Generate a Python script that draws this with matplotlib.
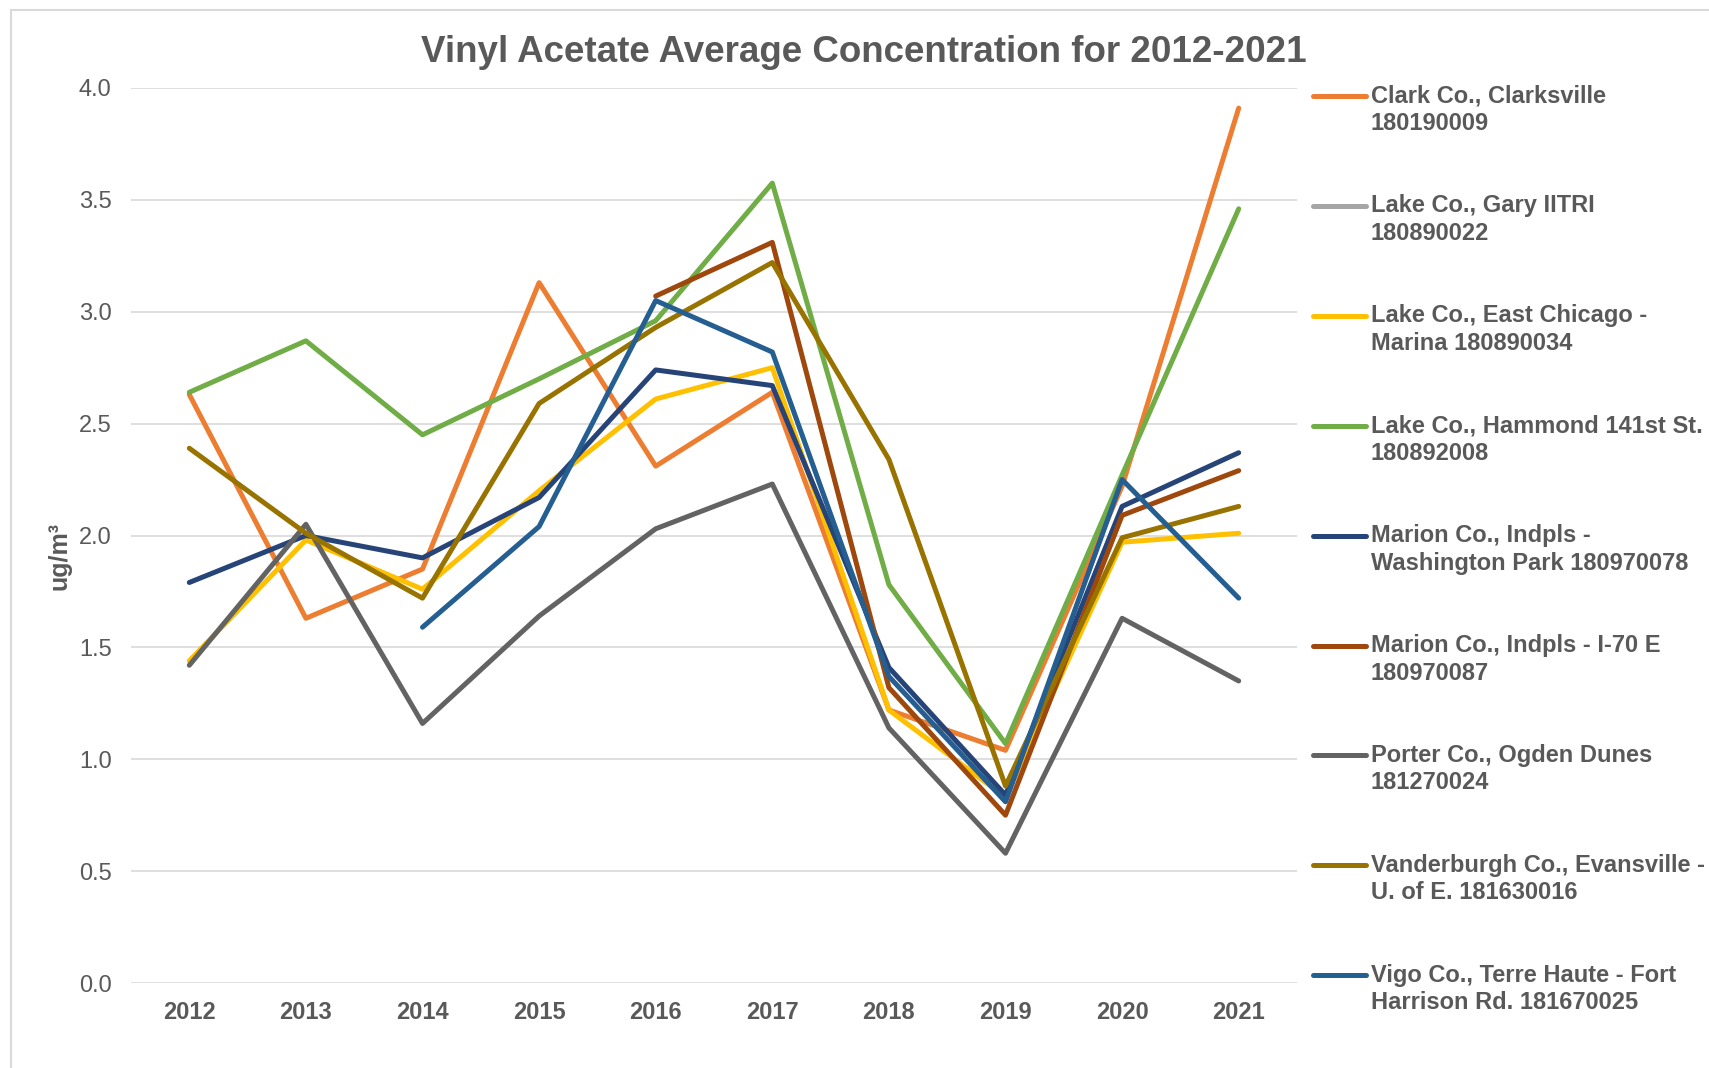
import numpy as np
import matplotlib
matplotlib.use("Agg")
import matplotlib.pyplot as plt
from matplotlib.lines import Line2D
from matplotlib.patches import Rectangle

plt.rcParams['font.family'] = ['Liberation Sans', 'DejaVu Sans']

nan = np.nan
years = ["2012", "2013", "2014", "2015", "2016", "2017", "2018", "2019", "2020", "2021"]

clark = [2.63, 1.63, 1.85, 3.13, 2.31, 2.64, 1.22, 1.04, 2.22, 3.91]
gary = [nan, nan, nan, nan, nan, nan, nan, nan, nan, nan]
east_chicago = [1.44, 1.98, 1.76, 2.20, 2.61, 2.75, 1.22, 0.83, 1.97, 2.01]
hammond = [2.64, 2.87, 2.45, 2.70, 2.96, 3.575, 1.78, 1.07, 2.27, 3.46]
washington_park = [1.79, 2.00, 1.90, 2.17, 2.74, 2.67, 1.41, 0.84, 2.13, 2.37]
i70 = [nan, nan, nan, nan, 3.07, 3.31, 1.32, 0.75, 2.09, 2.29]
porter = [1.42, 2.05, 1.16, 1.64, 2.03, 2.23, 1.14, 0.58, 1.63, 1.35]
vanderburgh = [2.39, 2.01, 1.72, 2.59, 2.93, 3.22, 2.34, 0.88, 1.99, 2.13]
vigo = [nan, nan, 1.59, 2.04, 3.05, 2.82, 1.37, 0.81, 2.25, 1.72]

labels = [
    "Clark Co., Clarksville\n180190009",
    "Lake Co., Gary IITRI\n180890022",
    "Lake Co., East Chicago -\nMarina 180890034",
    "Lake Co., Hammond 141st St.\n180892008",
    "Marion Co., Indpls -\nWashington Park 180970078",
    "Marion Co., Indpls - I-70 E\n180970087",
    "Porter Co., Ogden Dunes\n181270024",
    "Vanderburgh Co., Evansville -\nU. of E. 181630016",
    "Vigo Co., Terre Haute - Fort\nHarrison Rd. 181670025",
]
series = [clark, gary, east_chicago, hammond, washington_park, i70, porter, vanderburgh, vigo]
colors = ["#ED7D31", "#A5A5A5", "#FFC000", "#70AD47", "#264478",
          "#9E480E", "#636363", "#997300", "#255E91"]

W, H = 1709, 1068
fig = plt.figure(figsize=(W / 100, H / 100), dpi=100)
ax = fig.add_axes([131 / W, 1 - 983 / H, (1297 - 131) / W, (983 - 88) / H])

txt = "#595959"
grid = "#D9D9D9"
LW = 3.6
x = np.arange(len(years))
for vals, col in zip(series, colors):
    ax.plot(x, vals, color=col, lw=LW, solid_capstyle='round', solid_joinstyle='round', zorder=3)

ax.set_xlim(-0.5, len(years) - 0.5)
ax.set_ylim(0, 4.0)
ax.set_yticks(np.arange(0, 4.01, 0.5))
ax.set_yticklabels([f"{v:.1f}" for v in np.arange(0, 4.01, 0.5)])
ax.set_xticks(x)
ax.set_xticklabels(years, fontweight='bold')
ax.tick_params(axis='y', length=0, pad=14, labelsize=17, labelcolor=txt)
ax.tick_params(axis='x', length=0, pad=13, labelsize=17, labelcolor=txt)
for s in ax.spines.values():
    s.set_visible(False)
ax.grid(axis='y', color=grid, lw=1.2, zorder=0)
ax.set_axisbelow(True)
ax.set_ylabel("ug/m³", fontsize=18, fontweight='bold', color=txt)
ax.yaxis.set_label_coords(-0.051, 0.477)

fig.text(864 / W, 1 - 53 / H, "Vinyl Acetate Average Concentration for 2012-2021",
         ha='center', va='center', fontsize=26.5, fontweight='bold', color=txt)

# chart-area border
fig.patches.append(Rectangle((11 / W, -0.1), 1.2, 1 - 10 / H + 0.1, transform=fig.transFigure,
                             fill=False, edgecolor=grid, lw=1.5))

# legend (Excel style: handle aligned with first text line)
y0, dy, dline = 96, 109.9, 27.5
for k, (lab, col) in enumerate(zip(labels, colors)):
    yc = y0 + k * dy
    fig.add_artist(Line2D([1313 / W, 1366 / W], [1 - yc / H, 1 - yc / H], color=col, lw=LW,
                          solid_capstyle='round', transform=fig.transFigure))
    for j, line in enumerate(lab.split("\n")):
        fig.text(1371 / W, 1 - (yc + j * dline) / H, line, ha='left', va='center',
                 fontsize=17, fontweight='bold', color=txt)

fig.savefig("out.png", dpi=100, facecolor='white')
